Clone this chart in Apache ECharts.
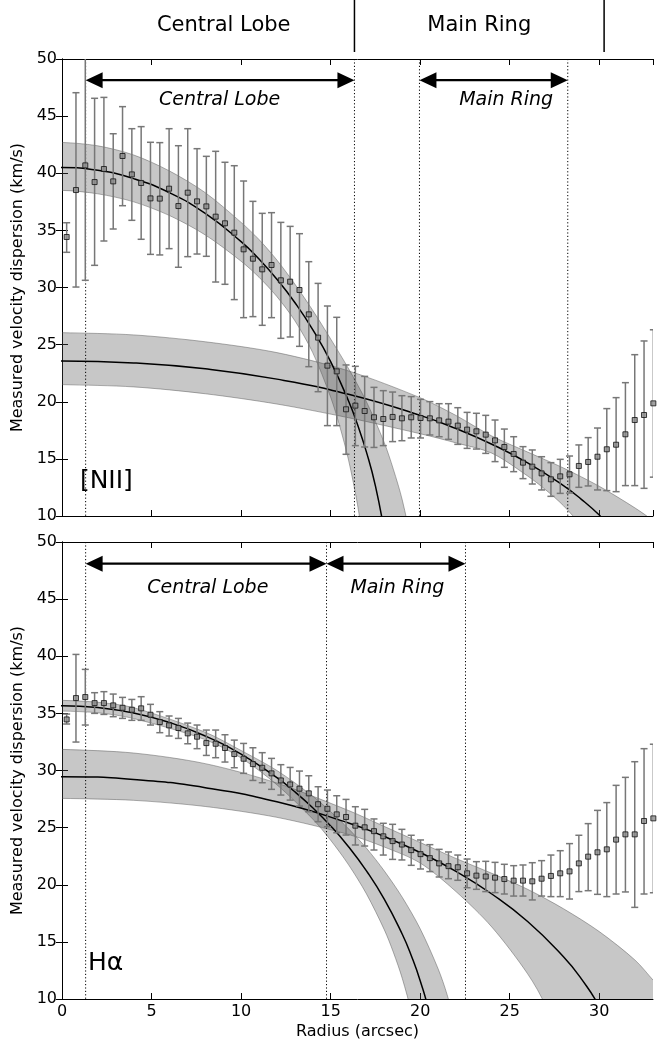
<!DOCTYPE html>
<html>
<head>
<meta charset="utf-8">
<script src="https://cdn.jsdelivr.net/npm/echarts@6/dist/echarts.min.js"></script>
<style>
html, body { margin: 0; padding: 0; background: #fff; }
#chart { width: 670px; height: 1046px; }
</style>
</head>
<body>
<div id="chart"></div>
<script>
// radial bins (arcsec)
const radius = [
    0.26, 0.78, 1.30, 1.82, 2.34, 2.86, 3.38, 3.90, 4.42, 4.94,
    5.46, 5.98, 6.50, 7.02, 7.54, 8.06, 8.58, 9.10, 9.62, 10.14,
    10.66, 11.18, 11.70, 12.22, 12.74, 13.26, 13.78, 14.30, 14.82, 15.34,
    15.86, 16.38, 16.90, 17.42, 17.94, 18.46, 18.98, 19.50, 20.02, 20.54,
    21.06, 21.58, 22.10, 22.62, 23.14, 23.66, 24.18, 24.70, 25.22, 25.74,
    26.26, 26.78, 27.30, 27.82, 28.34, 28.86, 29.38, 29.90, 30.42, 30.94,
    31.46, 31.98, 32.50, 33.02,
];

// [NII] panel
const niiDispersion = [
    34.42, 38.53, 40.69, 39.23, 40.37, 39.29, 41.51, 39.90, 39.15, 37.80,
    37.78, 38.65, 37.13, 38.30, 37.54, 37.10, 36.20, 35.62, 34.80, 33.34,
    32.52, 31.59, 31.97, 30.63, 30.51, 29.78, 27.65, 25.61, 23.16, 22.66,
    19.34, 19.66, 19.19, 18.64, 18.49, 18.67, 18.55, 18.64, 18.58, 18.55,
    18.37, 18.26, 17.91, 17.56, 17.41, 17.12, 16.62, 16.04, 15.43, 14.67,
    14.32, 13.73, 13.21, 13.47, 13.65, 14.38, 14.73, 15.19, 15.84, 16.24,
    17.15, 18.40, 18.84, 19.86,
];
const niiErrLow = [
    33.08, 30.04, 30.63, 31.94, 34.07, 35.12, 37.16, 35.88, 34.22, 32.90,
    32.85, 33.40, 31.77, 32.70, 32.93, 32.73, 30.48, 30.28, 28.94, 27.36,
    27.45, 26.69, 27.36, 25.55, 25.67, 24.85, 23.07, 20.88, 17.91, 17.91,
    15.40, 16.16, 16.04, 16.00, 16.16, 16.51, 16.59, 16.83, 16.83, 17.09,
    16.94, 16.71, 16.27, 15.92, 15.86, 15.48, 14.76, 14.26, 13.88, 13.27,
    12.80, 12.28, 11.72, 11.98, 12.01, 12.51, 12.63, 12.28, 12.22, 12.13,
    12.66, 12.66, 12.42, 13.40,
];
const niiErrHigh = [
    35.67, 47.05, 50.75, 46.56, 46.64, 43.46, 45.83, 43.90, 44.08, 42.71,
    42.68, 43.90, 42.41, 43.90, 42.15, 41.48, 41.92, 40.96, 40.66, 39.32,
    37.54, 36.49, 36.55, 35.70, 35.35, 34.71, 32.26, 30.36, 28.38, 27.39,
    23.22, 23.10, 22.22, 21.26, 20.97, 20.85, 20.53, 20.45, 20.21, 20.01,
    19.83, 19.83, 19.48, 19.07, 18.99, 18.81, 18.40, 17.61, 16.94, 16.07,
    15.78, 15.19, 14.67, 14.96, 15.25, 16.22, 16.86, 17.70, 19.40, 20.36,
    21.67, 24.12, 25.32, 26.30,
];

// H-alpha panel
const haDispersion = [
    34.47, 36.34, 36.43, 35.90, 35.90, 35.70, 35.49, 35.32, 35.44, 34.88,
    34.24, 33.95, 33.72, 33.25, 32.96, 32.40, 32.34, 31.97, 31.44, 31.03,
    30.56, 30.24, 29.75, 29.13, 28.78, 28.41, 28.00, 27.05, 26.65, 26.16,
    25.93, 25.17, 25.03, 24.69, 24.24, 23.82, 23.52, 23.03, 22.68, 22.33,
    21.87, 21.63, 21.53, 21.00, 20.80, 20.72, 20.62, 20.50, 20.36, 20.36,
    20.30, 20.53, 20.77, 21.00, 21.17, 21.87, 22.46, 22.84, 23.10, 23.95,
    24.41, 24.41, 25.58, 25.81,
];
const haErrLow = [
    34.07, 32.49, 33.98, 35.00, 34.91, 34.71, 34.56, 34.39, 34.39, 33.98,
    33.31, 33.02, 32.81, 32.34, 31.91, 31.32, 31.12, 30.74, 30.24, 29.75,
    29.13, 28.93, 28.35, 27.85, 27.41, 26.89, 26.39, 25.52, 25.08, 24.55,
    24.35, 23.48, 23.39, 23.04, 22.60, 22.22, 22.17, 21.70, 21.38, 21.15,
    20.68, 20.53, 20.39, 19.74, 19.60, 19.40, 19.31, 19.19, 19.01, 19.01,
    18.67, 19.01, 18.96, 18.96, 18.75, 19.40, 19.48, 19.16, 18.96, 19.19,
    19.37, 18.02, 19.19, 19.30,
];
const haErrHigh = [
    34.94, 40.16, 38.85, 36.81, 36.90, 36.69, 36.40, 36.22, 36.46, 35.79,
    35.15, 34.77, 34.56, 34.15, 33.98, 33.54, 33.54, 33.13, 32.66, 32.37,
    31.99, 31.56, 31.06, 30.51, 30.27, 29.95, 29.54, 28.58, 28.29, 27.79,
    27.47, 26.83, 26.60, 25.76, 25.38, 25.29, 24.85, 24.33, 23.92, 23.51,
    23.10, 22.87, 22.60, 22.25, 22.02, 22.05, 21.96, 21.79, 21.67, 21.73,
    21.93, 22.11, 22.60, 22.98, 23.60, 24.33, 25.35, 26.51, 27.19, 28.70,
    29.40, 30.77, 31.91, 32.30,
];

// model fits and their bands, [radius, km/s]
const niiLobeFit = [[-1, 40.38], [0, 40.5], [2, 40.26], [4, 39.53], [6, 38.29], [8, 36.48], [10, 34.01], [11, 32.49], [12, 30.73], [13, 28.69], [14, 26.32], [15, 23.51], [16, 20.07], [16.5, 18.0], [17, 15.59], [17.5, 12.64], [18, 8.6], [18.2, 6.2]];
const niiLobeUpper = [[-1, 42.6], [0, 42.7], [2, 42.4], [4, 41.6], [6, 40.2], [8, 38.3], [10, 35.7], [11, 34.2], [12, 32.4], [13, 30.3], [14, 28.0], [15, 25.5], [16, 22.9], [17, 20.0], [18, 16.4], [18.5, 14.1], [19, 11.4], [19.5, 7.6], [19.9, 2.0]];
const niiLobeLower = [[-1, 38.3], [0, 38.5], [2, 38.2], [4, 37.5], [6, 36.3], [8, 34.6], [10, 32.3], [11, 30.9], [12, 29.2], [13, 27.1], [14, 24.3], [15, 20.4], [15.5, 17.9], [16, 14.9], [16.5, 11.0], [16.8, 7.7], [17.0, 4.1]];
const niiRingFit = [[-1, 23.55], [0, 23.57], [4, 23.40], [8, 22.88], [12, 21.98], [16, 20.65], [20, 18.81], [22, 17.65], [24, 16.28], [26, 14.65], [28, 12.66], [29, 11.46], [30, 10.08], [31, 8.42], [32, 6.26], [33, 2.52]];
const niiRingUpper = [[-1, 26.05], [0, 26.05], [4, 25.85], [8, 25.25], [12, 24.3], [16, 22.7], [20, 20.35], [22, 18.8], [24, 17.0], [26, 15.6], [28, 14.2], [30, 12.6], [32, 10.7], [33, 9.6], [34, 8.3]];
const niiRingLower = [[-1, 21.5], [0, 21.5], [4, 21.3], [8, 20.7], [12, 19.8], [16, 18.6], [20, 17.2], [22, 16.4], [24, 15.5], [26, 13.5], [27, 12.3], [28, 10.9], [29, 9.1], [30, 6.6], [31, 1.0]];

const haLobeFit = [[-1, 35.63], [0, 35.67], [2, 35.51], [4, 35.03], [6, 34.20], [8, 33.02], [10, 31.43], [12, 29.37], [13, 28.14], [14, 26.74], [15, 25.15], [16, 23.33], [17, 21.22], [18, 18.73], [19, 15.67], [19.5, 13.81], [20, 11.60], [20.5, 8.78], [21, 4.24]];
const haLobeUpper = [[-1, 36.1], [0, 36.14], [2, 35.97], [4, 35.5], [8, 33.35], [10, 31.75], [12, 30.0], [14, 27.75], [15, 26.4], [16, 24.9], [17, 23.2], [18, 21.2], [19, 18.9], [20, 16.15], [21, 12.65], [21.5, 10.4], [22, 7.4], [22.4, 3.0]];
const haLobeLower = [[-1, 35.17], [0, 35.2], [2, 35.05], [4, 34.55], [8, 32.7], [10, 31.1], [12, 28.75], [14, 25.75], [15, 23.9], [16, 21.75], [17, 19.2], [18, 16.05], [18.5, 14.1], [19, 11.8], [19.5, 8.8], [20, 3.6]];
const haRingFit = [[-1, 29.45], [0, 29.46], [4, 29.22], [8, 28.50], [12, 27.26], [16, 25.41], [18, 24.22], [20, 22.82], [22, 21.17], [24, 19.19], [26, 16.78], [28, 13.70], [29, 11.76], [30, 9.33], [31, 5.85], [31.5, 2.67]];
const haRingUpper = [[-1, 31.83], [0, 31.85], [4, 31.53], [8, 30.6], [12, 28.9], [16, 26.5], [18, 25.1], [20, 23.7], [22, 22.3], [24, 21.0], [26, 19.6], [28, 17.9], [30, 15.9], [32, 13.4], [33, 11.66], [34, 9.9]];
const haRingLower = [[-1, 27.54], [0, 27.56], [4, 27.39], [8, 26.85], [12, 25.9], [16, 24.4], [18, 23.3], [20, 21.9], [22, 19.4], [24, 16.3], [26, 12.2], [27, 9.4], [28, 4.8]];

// region markers
const niiDividers = [1.32, 16.33, 19.96, 28.24];
const haDividers = [1.32, 14.77, 22.53];
const niiArrows = [[1.32, 16.33, 48.15], [19.96, 28.24, 48.15]];
const haArrows = [[1.32, 14.77, 48.1], [14.77, 22.53, 48.1]];
const regionNames = ["Central Lobe", "Main Ring"];
const niiRegionLabelPos = [[8.8, 46.4], [24.8, 46.4]];
const haRegionLabelPos = [[8.14, 45.97], [18.73, 45.97]];
const bannerDividers = [16.33, 30.27];
const bannerLabelPos = [[9.03, 0.5], [23.3, 0.5]];
const lineNames = ["[NII]", "Hα"];
const lineNamePos = [[1.0, 12.98], [1.45, 13.15]];

const FONT = "DejaVu Sans";

const chart = echarts.init(document.getElementById("chart"));

function panelAxes(gridIndex, showXLabels) {
    const tick = { inside: true, length: 6, lineStyle: { color: "#000", width: 1 } };
    const line = { show: true, lineStyle: { color: "#000", width: 1 } };
    const xBase = {
        gridIndex, type: "value", min: 0, max: 33, interval: 5,
        axisLine: line, axisTick: tick, splitLine: { show: false },
    };
    const yBase = {
        gridIndex, type: "value", min: 10, max: 50, interval: 5,
        axisLine: line, axisTick: tick, splitLine: { show: false },
    };
    return {
        x: [
            Object.assign({}, xBase, {
                position: "bottom",
                axisLabel: { show: showXLabels, showMaxLabel: false, margin: 5, color: "#000", fontSize: 16, fontFamily: FONT },
                name: showXLabels ? "Radius (arcsec)" : "",
                nameLocation: "middle", nameGap: 25,
                nameTextStyle: { color: "#000", fontSize: 16, fontFamily: FONT },
            }),
            Object.assign({}, xBase, { position: "top", axisLabel: { show: false } }),
        ],
        y: [
            Object.assign({}, yBase, {
                position: "left",
                axisLabel: { margin: 5, color: "#000", fontSize: 16, fontFamily: FONT },
                name: "Measured velocity dispersion (km/s)",
                nameLocation: "middle", nameGap: 31, nameRotate: 90,
                nameTextStyle: { color: "#000", fontSize: 16, fontFamily: FONT },
            }),
            Object.assign({}, yBase, { position: "right", axisLabel: { show: false } }),
        ],
    };
}

function bandSeries(ax, upper, lower) {
    return {
        type: "custom", xAxisIndex: ax, yAxisIndex: ax, clip: true, silent: true, z: 1,
        data: [upper[1]],
        renderItem: (params, api) => {
            const pts = upper.concat(lower.slice().reverse()).map((p) => api.coord(p));
            return {
                type: "polygon",
                shape: { points: pts, smooth: 0.3 },
                style: { fill: "rgba(80,80,80,0.32)", stroke: "rgba(80,80,80,0.45)", lineWidth: 1 },
            };
        },
    };
}

function fitSeries(ax, fit) {
    return {
        type: "line", xAxisIndex: ax, yAxisIndex: ax, data: fit, smooth: 0.5,
        showSymbol: false, silent: true, z: 2, clip: true,
        lineStyle: { color: "#000", width: 1.5 },
    };
}

function dividerSeries(ax, xs) {
    return {
        type: "custom", xAxisIndex: ax, yAxisIndex: ax, clip: true, silent: true, z: 3,
        data: xs.map((x) => [x, 10, 50]),
        renderItem: (params, api) => {
            const a = api.coord([api.value(0), api.value(2)]);
            const b = api.coord([api.value(0), api.value(1)]);
            return {
                type: "line", shape: { x1: a[0], y1: a[1], x2: b[0], y2: b[1] },
                style: { stroke: "#000", lineWidth: 1, lineDash: [1.2, 2.2] },
            };
        },
    };
}

function errorSeries(ax, lo, hi) {
    return {
        type: "custom", xAxisIndex: ax, yAxisIndex: ax, clip: true, silent: true, z: 4,
        data: radius.map((r, i) => [r, lo[i], hi[i]]),
        encode: { x: 0, y: [1, 2] },
        renderItem: (params, api) => {
            const a = api.coord([api.value(0), api.value(2)]);
            const b = api.coord([api.value(0), api.value(1)]);
            const style = { stroke: "#777", lineWidth: 1.5 };
            return {
                type: "group",
                children: [
                    { type: "line", shape: { x1: a[0], y1: a[1], x2: b[0], y2: b[1] }, style },
                    { type: "line", shape: { x1: a[0] - 3.5, y1: a[1], x2: a[0] + 3.5, y2: a[1] }, style },
                    { type: "line", shape: { x1: b[0] - 3.5, y1: b[1], x2: b[0] + 3.5, y2: b[1] }, style },
                ],
            };
        },
    };
}

function pointSeries(ax, values) {
    return {
        type: "scatter", xAxisIndex: ax, yAxisIndex: ax, clip: false, silent: true, z: 5,
        data: radius.map((r, i) => [r, values[i]]),
        symbol: "rect", symbolSize: 5,
        itemStyle: { color: "#8c8c8c", borderColor: "#111", borderWidth: 1 },
    };
}

function arrowSeries(ax, arrows) {
    return {
        type: "custom", xAxisIndex: ax, yAxisIndex: ax, clip: false, silent: true, z: 6,
        data: arrows,
        renderItem: (params, api) => {
            const a = api.coord([api.value(0), api.value(2)]);
            const b = api.coord([api.value(1), api.value(2)]);
            const L = 17, H = 8;
            return {
                type: "group",
                children: [
                    { type: "line", shape: { x1: a[0] + 4, y1: a[1], x2: b[0] - 4, y2: b[1] }, style: { stroke: "#000", lineWidth: 2.2 } },
                    { type: "polygon", shape: { points: [[a[0], a[1]], [a[0] + L, a[1] - H], [a[0] + L, a[1] + H]] }, style: { fill: "#000" } },
                    { type: "polygon", shape: { points: [[b[0], b[1]], [b[0] - L, b[1] - H], [b[0] - L, b[1] + H]] }, style: { fill: "#000" } },
                ],
            };
        },
    };
}

function textSeries(ax, positions, texts, font) {
    return {
        type: "custom", xAxisIndex: ax, yAxisIndex: ax, clip: false, silent: true, z: 7,
        data: positions,
        renderItem: (params, api) => {
            const p = api.coord([api.value(0), api.value(1)]);
            return {
                type: "text", x: p[0], y: p[1],
                style: Object.assign({
                    text: texts[params.dataIndex], fill: "#000", fontFamily: FONT,
                    align: "center", verticalAlign: "middle",
                }, font),
            };
        },
    };
}

const topAxes = panelAxes(1, false);
const bottomAxes = panelAxes(2, true);

const option = {
    animation: false,
    backgroundColor: "#fff",
    grid: [
        { left: 62, right: 17, top: 0, height: 52 },
        { left: 62, right: 17, top: 59, height: 457 },
        { left: 62, right: 17, top: 542, height: 457 },
    ],
    xAxis: [
        { gridIndex: 0, type: "value", min: 0, max: 33, show: false },
        topAxes.x[0], bottomAxes.x[0], topAxes.x[1], bottomAxes.x[1],
    ],
    yAxis: [
        { gridIndex: 0, type: "value", min: 0, max: 1, inverse: true, show: false },
        topAxes.y[0], bottomAxes.y[0], topAxes.y[1], bottomAxes.y[1],
    ],
    series: [
        // banner above the plots
        {
            type: "custom", xAxisIndex: 0, yAxisIndex: 0, silent: true,
            data: bannerDividers.map((x) => [x, 0, 1]),
            renderItem: (params, api) => {
                const a = api.coord([api.value(0), api.value(1)]);
                const b = api.coord([api.value(0), api.value(2)]);
                return { type: "line", shape: { x1: a[0], y1: a[1], x2: b[0], y2: b[1] }, style: { stroke: "#000", lineWidth: 1.5 } };
            },
        },
        textSeries(0, bannerLabelPos, regionNames, { fontSize: 21 }),

        // [NII]
        bandSeries(1, niiLobeUpper, niiLobeLower),
        bandSeries(1, niiRingUpper, niiRingLower),
        fitSeries(1, niiLobeFit),
        fitSeries(1, niiRingFit),
        dividerSeries(1, niiDividers),
        errorSeries(1, niiErrLow, niiErrHigh),
        pointSeries(1, niiDispersion),
        arrowSeries(1, niiArrows),
        textSeries(1, niiRegionLabelPos, regionNames, { fontSize: 19, fontStyle: "italic" }),
        textSeries(1, [lineNamePos[0]], [lineNames[0]], { fontSize: 25, align: "left" }),

        // H-alpha
        bandSeries(2, haLobeUpper, haLobeLower),
        bandSeries(2, haRingUpper, haRingLower),
        fitSeries(2, haLobeFit),
        fitSeries(2, haRingFit),
        dividerSeries(2, haDividers),
        errorSeries(2, haErrLow, haErrHigh),
        pointSeries(2, haDispersion),
        arrowSeries(2, haArrows),
        textSeries(2, haRegionLabelPos, regionNames, { fontSize: 19, fontStyle: "italic" }),
        textSeries(2, [lineNamePos[1]], [lineNames[1]], { fontSize: 25, align: "left" }),
    ],
};

chart.setOption(option);
</script>
</body>
</html>
